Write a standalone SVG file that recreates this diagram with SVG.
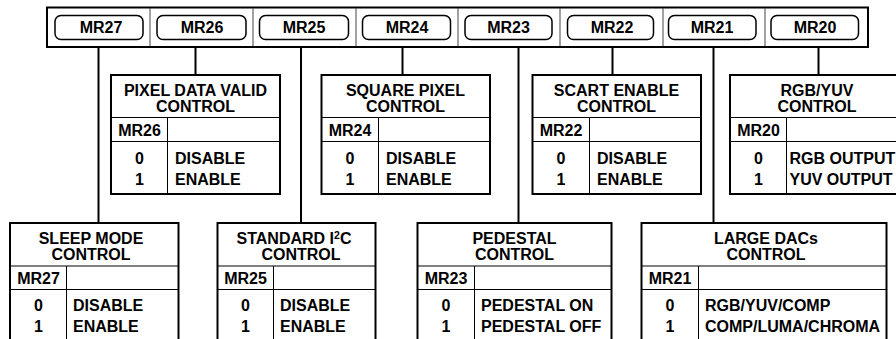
<svg xmlns="http://www.w3.org/2000/svg" width="896" height="339" viewBox="0 0 896 339">
<style>
text{font-family:"Liberation Sans",Arial,sans-serif;font-weight:bold;font-size:16px;fill:#000}
.c{text-anchor:middle}
.box{fill:#fff;stroke:#000;stroke-width:2}
.pill{fill:#fff;stroke:#000;stroke-width:1.5}
.in{stroke:#000;stroke-width:1;fill:none}
.div{stroke:#444;stroke-width:1;fill:none}
.con{stroke:#000;stroke-width:2;fill:none}
</style>
<rect width="896" height="339" fill="#fff"/>
<g id="register">
<rect class="box" x="47" y="7.5" width="821" height="39.5"/>
<path class="div" d="M150 8V46M253 8V46M356 8V46M458 8V46M560 8V46M663 8V46M765 8V46"/>
<g id="mr27"><rect class="pill" x="55" y="15.5" width="88" height="24" rx="6"/><text class="c" x="101" y="33">MR27</text></g>
<g id="mr26"><rect class="pill" x="157" y="15.5" width="89" height="24" rx="6"/><text class="c" x="202" y="33">MR26</text></g>
<g id="mr25"><rect class="pill" x="259.5" y="15.5" width="89" height="24" rx="6"/><text class="c" x="304" y="33">MR25</text></g>
<g id="mr24"><rect class="pill" x="362.5" y="15.5" width="88" height="24" rx="6"/><text class="c" x="407" y="33">MR24</text></g>
<g id="mr23"><rect class="pill" x="465" y="15.5" width="87" height="24" rx="6"/><text class="c" x="508.5" y="33">MR23</text></g>
<g id="mr22"><rect class="pill" x="567.5" y="15.5" width="86" height="24" rx="6"/><text class="c" x="612" y="33">MR22</text></g>
<g id="mr21"><rect class="pill" x="668.5" y="15.5" width="87.5" height="24" rx="6"/><text class="c" x="712" y="33">MR21</text></g>
<g id="mr20"><rect class="pill" x="771" y="15.5" width="87.5" height="24" rx="6"/><text class="c" x="815" y="33">MR20</text></g>
</g>
<g id="connectors">
<path class="con" d="M98.5 47V223M195.5 47V75M301 47V223M402.5 47V75M518.5 47V223M612.5 47V75M713.5 47V223M818.5 47V75"/>
</g>
<g id="pixel-data-valid">
<rect class="box" x="111" y="75" width="169" height="119"/>
<path class="in" d="M111 117.5H280M111 141.5H280M167.5 117.5V194"/>
<text class="c" x="195.5" y="96">PIXEL DATA VALID</text>
<text class="c" x="195.5" y="112">CONTROL</text>
<text class="c" x="139.5" y="136">MR26</text>
<text class="c" x="139.5" y="163.5">0</text><text x="175" y="163.5">DISABLE</text>
<text class="c" x="139.5" y="184.5">1</text><text x="175" y="184.5">ENABLE</text>
</g>
<g id="square-pixel">
<rect class="box" x="321.5" y="75" width="168.5" height="119"/>
<path class="in" d="M321.5 117.5H490M321.5 141.5H490M378.5 117.5V194"/>
<text class="c" x="405.5" y="96">SQUARE PIXEL</text>
<text class="c" x="405.5" y="112">CONTROL</text>
<text class="c" x="350" y="136">MR24</text>
<text class="c" x="350" y="163.5">0</text><text x="386" y="163.5">DISABLE</text>
<text class="c" x="350" y="184.5">1</text><text x="386" y="184.5">ENABLE</text>
</g>
<g id="scart-enable">
<rect class="box" x="532.5" y="75" width="168.5" height="119"/>
<path class="in" d="M532.5 117.5H701M532.5 141.5H701M589.5 117.5V194"/>
<text class="c" x="616.5" y="96">SCART ENABLE</text>
<text class="c" x="616.5" y="112">CONTROL</text>
<text class="c" x="561" y="136">MR22</text>
<text class="c" x="561" y="163.5">0</text><text x="597" y="163.5">DISABLE</text>
<text class="c" x="561" y="184.5">1</text><text x="597" y="184.5">ENABLE</text>
</g>
<g id="rgb-yuv">
<rect class="box" x="730" y="75" width="174" height="119"/>
<path class="in" d="M730 117.5H904M730 141.5H904M786.5 117.5V194"/>
<text class="c" x="817" y="96">RGB/YUV</text>
<text class="c" x="817" y="112">CONTROL</text>
<text class="c" x="758.5" y="136">MR20</text>
<text class="c" x="758.5" y="163.5">0</text><text x="789.5" y="163.5">RGB OUTPUT</text>
<text class="c" x="758.5" y="184.5">1</text><text x="789.5" y="184.5">YUV OUTPUT</text>
</g>
<g id="sleep-mode">
<rect class="box" x="10" y="223" width="168.5" height="130"/>
<path class="in" d="M10 266H178.5M10 289.5H178.5M66.5 266V353"/>
<text class="c" x="91" y="244">SLEEP MODE</text>
<text class="c" x="91" y="260">CONTROL</text>
<text class="c" x="38.5" y="283.5">MR27</text>
<text class="c" x="38.5" y="310.5">0</text><text x="73" y="310.5">DISABLE</text>
<text class="c" x="38.5" y="331.5">1</text><text x="73" y="331.5">ENABLE</text>
</g>
<g id="standard-i2c">
<rect class="box" x="217.5" y="223" width="158" height="130"/>
<path class="in" d="M217.5 266H375.5M217.5 289.5H375.5M273.5 266V353"/>
<text class="c" x="294" y="244">STANDARD I<tspan font-size="10.5" dy="-5">2</tspan><tspan dy="5">C</tspan></text>
<text class="c" x="301" y="260">CONTROL</text>
<text class="c" x="245.5" y="283.5">MR25</text>
<text class="c" x="245.5" y="310.5">0</text><text x="280" y="310.5">DISABLE</text>
<text class="c" x="245.5" y="331.5">1</text><text x="280" y="331.5">ENABLE</text>
</g>
<g id="pedestal">
<rect class="box" x="417.5" y="223" width="194" height="130"/>
<path class="in" d="M417.5 266H611.5M417.5 289.5H611.5M474.5 266V353"/>
<text class="c" x="514.5" y="244">PEDESTAL</text>
<text class="c" x="514.5" y="260">CONTROL</text>
<text class="c" x="446" y="283.5">MR23</text>
<text class="c" x="446" y="310.5">0</text><text x="481" y="310.5">PEDESTAL ON</text>
<text class="c" x="446" y="331.5">1</text><text x="481" y="331.5">PEDESTAL OFF</text>
</g>
<g id="large-dacs">
<rect class="box" x="641.5" y="223" width="245" height="130"/>
<path class="in" d="M641.5 266H886.5M641.5 289.5H886.5M698.5 266V353"/>
<text class="c" x="766" y="244">LARGE DACs</text>
<text class="c" x="766" y="260">CONTROL</text>
<text class="c" x="670" y="283.5">MR21</text>
<text class="c" x="670" y="310.5">0</text><text x="705" y="310.5">RGB/YUV/COMP</text>
<text class="c" x="670" y="331.5">1</text><text x="705" y="331.5">COMP/LUMA/CHROMA</text>
</g>
</svg>
